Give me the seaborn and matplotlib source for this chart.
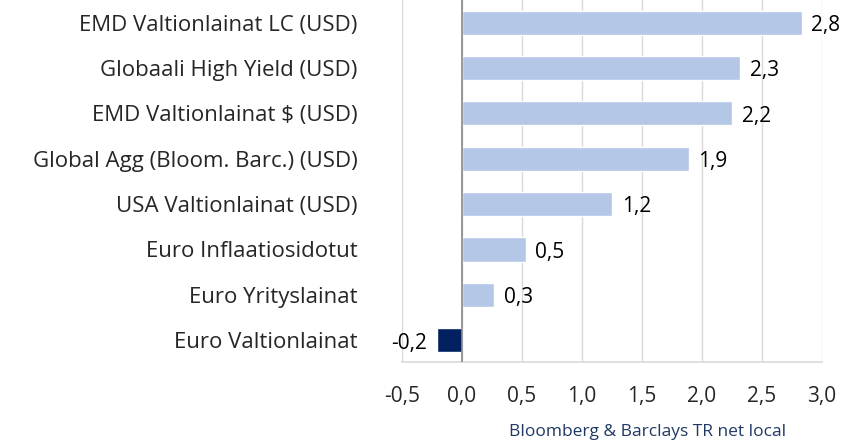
import matplotlib
matplotlib.use("Agg")
import matplotlib.pyplot as plt
import seaborn as sns
import pandas as pd

categories = [
    "EMD Valtionlainat LC (USD)",
    "Globaali High Yield (USD)",
    "EMD Valtionlainat $ (USD)",
    "Global Agg (Bloom. Barc.) (USD)",
    "USA Valtionlainat (USD)",
    "Euro Inflaatiosidotut",
    "Euro Yrityslainat",
    "Euro Valtionlainat",
]
# bar lengths; labels as printed
values = [2.83, 2.32, 2.25, 1.89, 1.25, 0.53, 0.27, -0.21]
value_labels = ["2,8", "2,3", "2,2", "1,9", "1,2", "0,5", "0,3", "-0,2"]
xticks = [-0.5, 0.0, 0.5, 1.0, 1.5, 2.0, 2.5, 3.0]
caption = "Bloomberg & Barclays TR net local"

sns.set_theme(style="white")
plt.rcParams["font.family"] = ["Open Sans", "DejaVu Sans"]

df = pd.DataFrame({"cat": categories, "val": values})
light = "#B4C7E7"
navy = "#002060"
palette = [navy if v < 0 else light for v in values]

fig = plt.figure(figsize=(8.45, 4.43), dpi=100)
ax = fig.add_axes([402 / 845, 1 - 362 / 443, 420 / 845, 362 / 443])

sns.barplot(data=df, x="val", y="cat", hue="cat", palette=palette,
            legend=False, width=0.53, ax=ax, orient="h", saturation=1)

ax.set_xlim(-0.5, 3.0)
ax.set_ylim(7.48, -0.5)
ax.set_xticks(xticks)
ax.set_xticklabels([f"{t:.1f}".replace(".", ",") for t in xticks], fontsize=15)
ax.tick_params(axis="x", length=0, pad=17)
ax.tick_params(axis="y", length=0, pad=32, labelsize=16)
ax.set_xlabel("")
ax.set_ylabel("")

ax.grid(axis="x", color="#D9D9D9", linewidth=1)
ax.set_axisbelow(True)
for s in ["top", "right", "left"]:
    ax.spines[s].set_visible(False)
ax.spines["bottom"].set_color("#D9D9D9")
ax.spines["bottom"].set_linewidth(1.2)
ax.axvline(0, color="#888888", linewidth=1.2, zorder=3)

for i, (v, txt) in enumerate(zip(values, value_labels)):
    if v >= 0:
        ax.annotate(txt, (v, i), xytext=(7, -2), textcoords="offset points",
                    ha="left", va="center", fontsize=15, color="#000000")
    else:
        ax.annotate(txt, (v, i), xytext=(-7, -2), textcoords="offset points",
                    ha="right", va="center", fontsize=15, color="#000000")

fig.text(648 / 845, 1 - 432 / 443, caption, ha="center", va="center",
         fontsize=12.5, color="#1F3864")

fig.savefig("out.png", dpi=100)
